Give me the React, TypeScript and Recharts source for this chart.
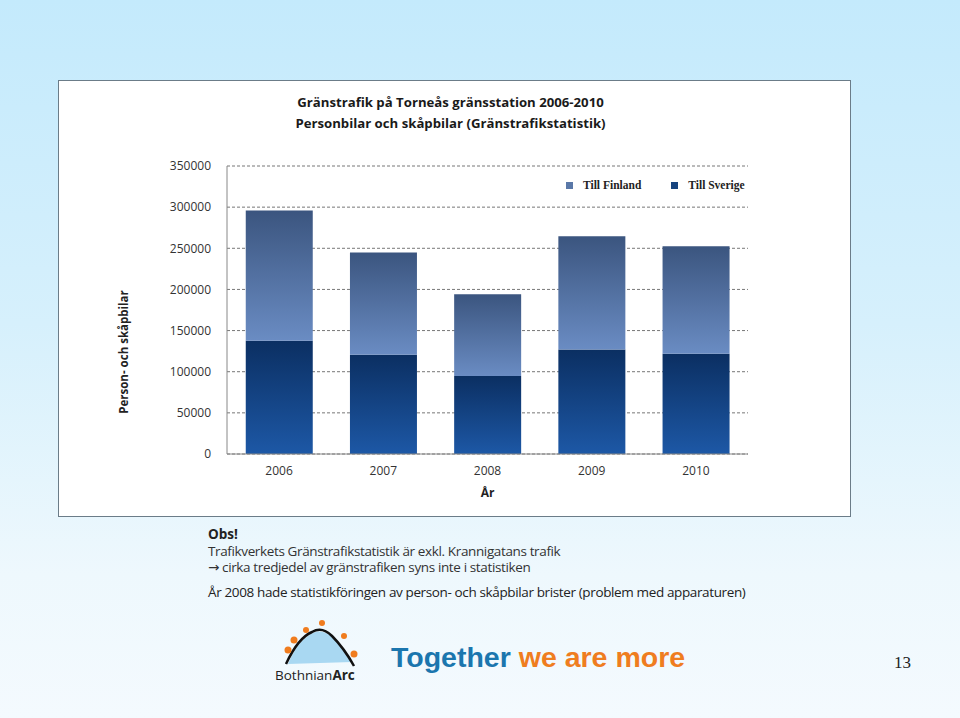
import React from 'react';
import { BarChart, Bar, XAxis, YAxis, CartesianGrid } from 'recharts';

const years = ['2006', '2007', '2008', '2009', '2010'];
const tillSverige = [137600, 120600, 94700, 127000, 121800];
const tillFinland = [158200, 124200, 99500, 137600, 130600];
const yTicks = [0, 50000, 100000, 150000, 200000, 250000, 300000, 350000];

const data = years.map((year, i) => ({
  year,
  sverige: tillSverige[i],
  finland: tillFinland[i]
}));

const sans = '"Open Sans", "DejaVu Sans", sans-serif';

const LegendBox = () => (
  <div style={{ position: 'absolute', left: 507, top: 98, display: 'flex', gap: 30, fontFamily: '"Liberation Serif", serif',
    fontSize: 11.5, fontWeight: 'bold', color: '#222' }}>
    <span style={{ display: 'flex', alignItems: 'center' }}>
      <span style={{ width: 7, height: 7, background: '#5a78a8', marginRight: 10 }} />
      Till Finland
    </span>
    <span style={{ display: 'flex', alignItems: 'center' }}>
      <span style={{ width: 7, height: 7, background: '#17447f', marginRight: 10 }} />
      Till Sverige
    </span>
  </div>
);

// y-axis title, pushed a bit below the plot centre like the original
const YTitle = ({ viewBox }: any) => {
  const x = viewBox.x + 7;
  const y = viewBox.y + viewBox.height / 2 + 42;
  return (
    <text x={x} y={y} transform={`rotate(-90, ${x}, ${y})`} textAnchor="middle" dominantBaseline="central"
      fontFamily={sans} fontSize={11.5} fontWeight="bold" fill="#222">
      Person- och skåpbilar
    </text>
  );
};

const Logo = () => (
  <svg width={100} height={70} style={{ position: 'absolute', left: 272, top: 614 }}>
    <path d="M16 50 Q24 30 36 22 Q48 12 62 24 Q74 36 80 48 Z" fill="#a9d8f2" />
    <path d="M14 50 Q26 24 40 18 Q50 12 60 22 Q72 34 82 52" fill="none" stroke="#111" strokeWidth={2.5} />
    <circle cx={16} cy={36} r={3.5} fill="#f07c1e" />
    <circle cx={22} cy={26} r={3.5} fill="#f07c1e" />
    <circle cx={34} cy={16} r={3} fill="#f07c1e" />
    <circle cx={50} cy={9} r={3} fill="#f07c1e" />
    <circle cx={72} cy={22} r={3} fill="#f07c1e" />
    <circle cx={82} cy={40} r={3.5} fill="#f07c1e" />
    <text x={3} y={66} fontFamily={sans} fontSize={13.5} fill="#222">
      Bothnian<tspan fontWeight="bold">Arc</tspan>
    </text>
  </svg>
);

export default function App() {
  return (
    <div style={{ position: 'absolute', left: 0, top: 0, width: 960, height: 718, overflow: 'hidden',
      background: 'linear-gradient(180deg, #c4eafc 0%, #d6f0fc 45%, #eef8fd 80%, #f4fafe 100%)' }}>
      <div style={{ position: 'absolute', left: 58, top: 80, width: 793, height: 437, background: '#fff',
        border: '1px solid #6b7c88', boxSizing: 'border-box' }}>
        <div style={{ position: 'absolute', left: -5, top: 11, width: 793, textAlign: 'center', fontFamily: sans,
          fontWeight: 'bold', fontSize: 13.2, lineHeight: '21px', color: '#1a1a1a' }}>
          <div>Gränstrafik på Torneås gränsstation 2006-2010</div>
          <div>Personbilar och skåpbilar (Gränstrafikstatistik)</div>
        </div>
        <BarChart width={791} height={435} data={data} barCategoryGap="18%"
          margin={{ top: 85, right: 102, left: 57, bottom: 17 }}>
          <defs>
            <linearGradient id="gSverige" x1="0" y1="0" x2="0" y2="1">
              <stop offset="0%" stopColor="#0b2f62" />
              <stop offset="100%" stopColor="#1d58a6" />
            </linearGradient>
            <linearGradient id="gFinland" x1="0" y1="0" x2="0" y2="1">
              <stop offset="0%" stopColor="#3b557f" />
              <stop offset="100%" stopColor="#6a8cc3" />
            </linearGradient>
          </defs>
          <CartesianGrid vertical={false} stroke="#777" strokeDasharray="3 2" />
          <XAxis dataKey="year" height={45} tickLine={false} stroke="#888" tickMargin={6}
            tick={{ fontFamily: sans, fontSize: 12, fill: '#333' }}
            label={{ value: 'År', position: 'insideBottom', offset: 2, fontFamily: sans, fontSize: 12, fontWeight: 'bold', fill: '#222' }} />
          <YAxis width={111} domain={[0, 350000]} ticks={yTicks} interval={0} tickLine={false} stroke="#888" tickMargin={10}
            tick={{ fontFamily: sans, fontSize: 12, fill: '#333' }}
            label={{ content: YTitle }} />
          <Bar dataKey="sverige" name="Till Sverige" stackId="a" fill="url(#gSverige)" isAnimationActive={false} />
          <Bar dataKey="finland" name="Till Finland" stackId="a" fill="url(#gFinland)" isAnimationActive={false} />
        </BarChart>
        <LegendBox />
      </div>
      <div style={{ position: 'absolute', left: 208, top: 526, fontFamily: sans, fontSize: 13.5, letterSpacing: -0.37,
        lineHeight: '16.5px', color: '#333' }}>
        <div style={{ fontWeight: 'bold', color: '#222', letterSpacing: 0 }}>Obs!</div>
        <div>Trafikverkets Gränstrafikstatistik är exkl. Krannigatans trafik</div>
        <div>→ cirka tredjedel av gränstrafiken syns inte i statistiken</div>
        <div style={{ marginTop: 8, color: '#222' }}>År 2008 hade statistikföringen av person- och skåpbilar brister (problem med apparaturen)</div>
      </div>
      <Logo />
      <div style={{ position: 'absolute', left: 391, top: 641, fontFamily: '"Liberation Sans", Arial, sans-serif',
        fontWeight: 'bold', fontSize: 28.5 }}>
        <span style={{ color: '#1b76ae' }}>Together</span> <span style={{ color: '#ef7d1f' }}>we are more</span>
      </div>
      <div style={{ position: 'absolute', left: 894, top: 653, fontFamily: '"Liberation Serif", serif', fontSize: 17, color: '#222' }}>13</div>
    </div>
  );
}
